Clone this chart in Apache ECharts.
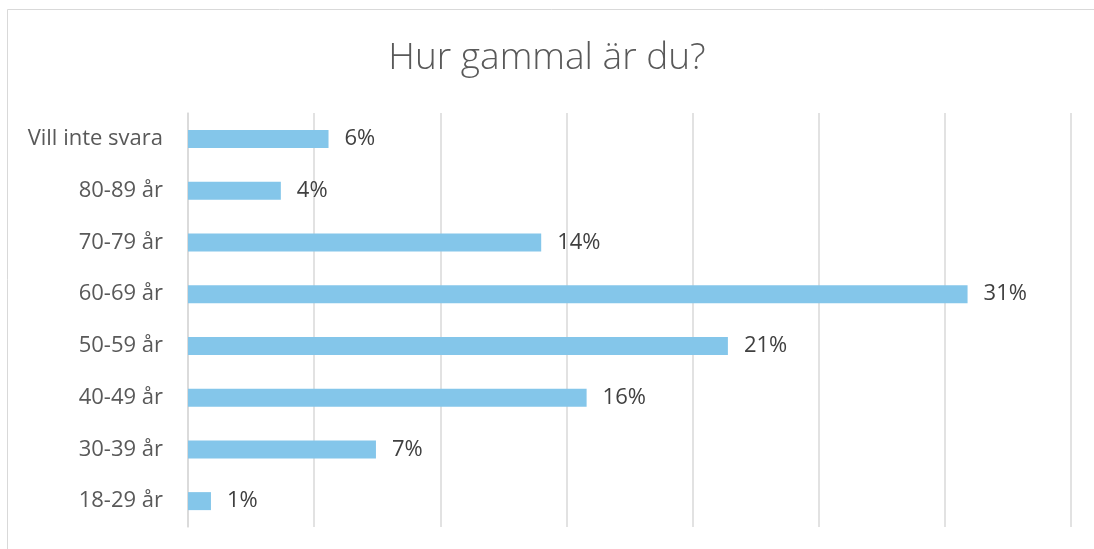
<!DOCTYPE html>
<html>
<head>
<meta charset="utf-8">
<script src="https://cdn.jsdelivr.net/npm/echarts@6/dist/echarts.min.js"></script>
<style>
html,body{margin:0;padding:0;background:#fff;}
#c{width:1094px;height:549px;}
</style>
</head>
<body>
<div id="c"></div>
<script>
const titleText = "Hur gammal är du?";
const categories = ["Vill inte svara", "80-89 år", "70-79 år", "60-69 år", "50-59 år", "40-49 år", "30-39 år", "18-29 år"];
const values = [5.57, 3.68, 14.0, 30.9, 21.4, 15.8, 7.45, 0.91];
const axisMax = 35;
const axisInterval = 5;

const chart = echarts.init(document.getElementById('c'), null, {renderer: 'canvas'});
chart.setOption({
  animation: false,
  backgroundColor: '#ffffff',
  title: {
    text: titleText,
    left: 'center',
    top: 35,
    textStyle: {fontFamily: 'Open Sans', fontWeight: 300, fontSize: 37, color: '#595959'}
  },
  graphic: [{
    type: 'rect',
    shape: {x: 7.5, y: 9.5, width: 1200, height: 700},
    style: {fill: 'none', stroke: '#d9d9d9', lineWidth: 1},
    silent: true
  }],
  grid: {left: 188, right: 23, top: 113, bottom: 22, containLabel: false},
  xAxis: {
    type: 'value',
    min: 0,
    max: axisMax,
    interval: axisInterval,
    axisLabel: {show: false},
    axisLine: {show: false},
    axisTick: {show: false},
    splitLine: {show: true, lineStyle: {color: '#d9d9d9', width: 1.5}}
  },
  yAxis: {
    type: 'category',
    data: categories,
    inverse: true,
    axisLine: {show: true, lineStyle: {color: '#d9d9d9', width: 1.5}},
    axisTick: {show: false},
    axisLabel: {margin: 25, fontFamily: 'Open Sans', fontSize: 22, color: '#595959'}
  },
  series: [{
    type: 'bar',
    data: values,
    barWidth: 18,
    itemStyle: {color: '#84c6ea'},
    label: {
      show: true,
      position: 'right',
      distance: 16,
      fontFamily: 'Open Sans',
      fontSize: 22,
      color: '#404040',
      formatter: p => Math.round(p.value) + '%'
    }
  }]
});
</script>
</body>
</html>
